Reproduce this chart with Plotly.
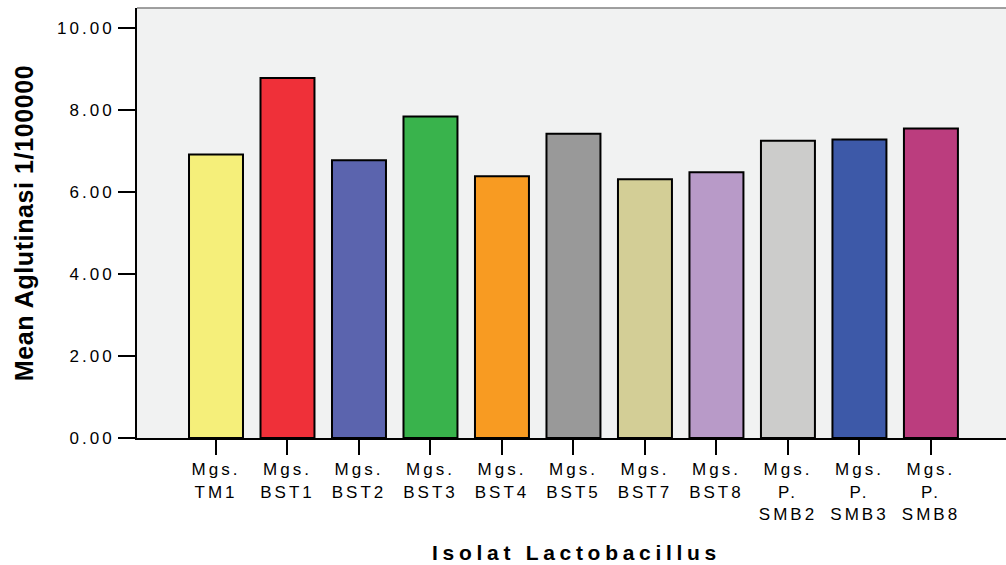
import plotly.graph_objects as go

categories = ["Mgs. TM1", "Mgs. BST1", "Mgs. BST2", "Mgs. BST3", "Mgs. BST4", "Mgs. BST5",
              "Mgs. BST7", "Mgs. BST8", "Mgs. P. SMB2", "Mgs. P. SMB3", "Mgs. P. SMB8"]
tick_labels = ["Mgs.<br>TM1", "Mgs.<br>BST1", "Mgs.<br>BST2", "Mgs.<br>BST3", "Mgs.<br>BST4",
               "Mgs.<br>BST5", "Mgs.<br>BST7", "Mgs.<br>BST8", "Mgs.<br>P.<br>SMB2",
               "Mgs.<br>P.<br>SMB3", "Mgs.<br>P.<br>SMB8"]
values = [6.92, 8.79, 6.78, 7.85, 6.39, 7.43, 6.32, 6.49, 7.26, 7.29, 7.56]
colors = ["#F5EF7A", "#EF3039", "#5B64AE", "#39B34C", "#F89B22", "#999999",
          "#D3CE96", "#B89AC8", "#CCCCCB", "#3D59A8", "#BB3D7E"]
y_ticks = [0, 2, 4, 6, 8, 10]
y_tick_labels = ["0.00", "2.00", "4.00", "6.00", "8.00", "10.00"]

fig = go.Figure()
fig.add_trace(go.Bar(
    x=categories, y=values,
    marker=dict(color=colors, line=dict(color="#000000", width=2)),
    width=0.755,
))

font_family = "Liberation Sans, Arial, sans-serif"
fig.update_layout(
    width=1006, height=565, autosize=False,
    margin=dict(l=137, r=0, t=8, b=127),
    paper_bgcolor="#FFFFFF", plot_bgcolor="#F1F2F2",
    showlegend=False,
    font=dict(family=font_family, color="#000000", size=17),
    xaxis=dict(
        type="category", range=[-1.105, 11.05],
        tickmode="array", tickvals=categories, ticktext=tick_labels,
        ticks="outside", ticklen=15, tickwidth=2, tickcolor="#000000",
        showline=True, linecolor="#000000", linewidth=2,
        showgrid=False, zeroline=False,
        tickfont=dict(size=17, family=font_family, color="#000000"),
        title=dict(text="<b>Isolat Lactobacillus</b>", standoff=23,
                   font=dict(size=21, family=font_family, color="#000000")),
    ),
    yaxis=dict(
        range=[0, 10.5],
        tickmode="array", tickvals=y_ticks, ticktext=y_tick_labels,
        ticks="outside", ticklen=17, tickwidth=2, tickcolor="#000000",
        showline=True, linecolor="#000000", linewidth=2,
        showgrid=False, zeroline=False,
        tickfont=dict(size=17, family=font_family, color="#000000"),
        title=dict(text="<b>Mean Aglutinasi 1/100000</b>", standoff=31,
                   font=dict(size=25, family=font_family, color="#000000")),
    ),
    shapes=[dict(type="line", xref="paper", yref="paper", x0=0, x1=1, y0=1, y1=1,
                 line=dict(color="#808080", width=1.5))],
)

post = """
document.body.style.margin = '0';
document.body.style.padding = '0';
var gd = document.getElementById('{plot_id}');
function sp(){
  gd.querySelectorAll('.xtick text, .ytick text').forEach(function(t){ t.setAttribute('letter-spacing','3px'); });
  gd.querySelectorAll('.g-xtitle text').forEach(function(t){ t.setAttribute('letter-spacing','4.7px'); t.setAttribute('transform', 'translate(5,0)'); });
  gd.querySelectorAll('.g-ytitle text').forEach(function(t){ t.setAttribute('letter-spacing','0.6px'); });
}
sp();
"""
fig.write_html("out.html", post_script=post, config={"displayModeBar": False, "staticPlot": True})
